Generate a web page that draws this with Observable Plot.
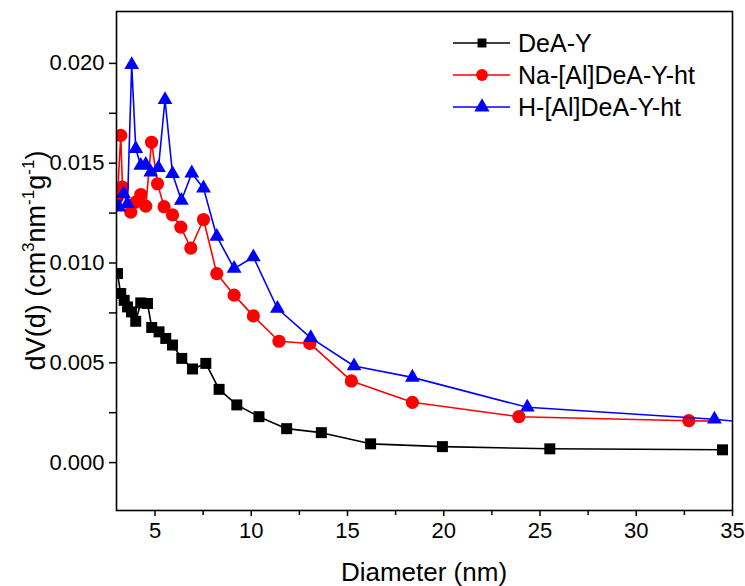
<!DOCTYPE html>
<html>
<head>
<meta charset="utf-8">
<script src="https://cdn.jsdelivr.net/npm/d3@7"></script>
<script src="https://cdn.jsdelivr.net/npm/@observablehq/plot@0.6"></script>
<style>
  html, body { margin: 0; padding: 0; background: #fff; }
  #chart { width: 745px; height: 586px; }
</style>
</head>
<body>
<div id="chart"></div>
<script>
// ---- Data ----
const seriesNames = ["DeA-Y", "Na-[Al]DeA-Y-ht", "H-[Al]DeA-Y-ht"];
const seriesColors = ["#000000", "#ff0000", "#0000ff"];
const seriesSymbols = ["square", "circle", "triangle"];

const diameterDeA = [3.05, 3.22, 3.40, 3.57, 3.78, 4.00, 4.26, 4.61, 4.83, 5.21, 5.56, 5.91, 6.39, 6.95, 7.64, 8.33, 9.25, 10.4, 11.84, 13.64, 16.2, 19.93, 25.51, 34.48];
const dvDeA       = [0.00947, 0.00847, 0.00813, 0.00780, 0.00755, 0.00708, 0.00800, 0.00797, 0.00677, 0.00655, 0.00622, 0.00589, 0.00522, 0.00469, 0.00497, 0.00367, 0.00289, 0.00230, 0.00170, 0.00150, 0.00094, 0.00080, 0.00069, 0.00064];

const diameterNa = [3.05, 3.22, 3.31, 3.74, 4.00, 4.26, 4.52, 4.82, 5.13, 5.47, 5.91, 6.34, 6.86, 7.52, 8.21, 9.11, 10.11, 11.44, 13.04, 15.2, 18.37, 23.9, 32.73, 34.06];
const dvNa       = [0.01330, 0.01639, 0.01380, 0.01255, 0.01305, 0.01343, 0.01285, 0.01605, 0.01397, 0.01282, 0.01241, 0.01180, 0.01075, 0.01218, 0.00947, 0.00839, 0.00735, 0.00608, 0.00597, 0.00409, 0.00302, 0.00230, 0.00210, 0.00208];
// the last Na point lies under the H triangle at 34.06 nm; its marker is hidden in the reference
const hiddenMarkerNa = [34.06];

const diameterH = [3.13, 3.36, 3.57, 3.79, 4.00, 4.26, 4.52, 4.78, 5.18, 5.52, 5.91, 6.37, 6.91, 7.52, 8.21, 9.11, 10.11, 11.36, 13.09, 15.34, 18.37, 24.34, 34.06, 36.0];
const dvH       = [0.01280, 0.01347, 0.01297, 0.01993, 0.01572, 0.01488, 0.01493, 0.01455, 0.01477, 0.01818, 0.01447, 0.01313, 0.01450, 0.01375, 0.01133, 0.00972, 0.01030, 0.00772, 0.00625, 0.00484, 0.00427, 0.00277, 0.00217, 0.00198];

const xTicks = [5, 10, 15, 20, 25, 30, 35];
const xMinorTicks = [7.5, 12.5, 17.5, 22.5, 27.5, 32.5];
const yTicks = [0.000, 0.005, 0.010, 0.015, 0.020];
const yMinorTicks = [0.0025, 0.0075, 0.0125, 0.0175];
const xLabel = "Diameter (nm)";

const toRows = (xs, ys, name) => xs.map((d, i) => ({diameter: d, dv: ys[i], series: name}));
const rowsDeA = toRows(diameterDeA, dvDeA, seriesNames[0]);
const rowsNa = toRows(diameterNa, dvNa, seriesNames[1]);
const rowsH = toRows(diameterH, dvH, seriesNames[2]);
const allRows = [rowsDeA, rowsNa, rowsH];

const W = 745, H = 586;
const mL = 116, mR = 13, mT = 11, mB = 76;
const font = "'Liberation Sans', Arial, sans-serif";

const marks = [];
marks.push(Plot.axisX({ticks: xTicks, tickSize: 6, tickPadding: 6, tickFormat: d => String(d), label: null, fontSize: 22, strokeWidth: 1.5}));
marks.push(Plot.axisX({ticks: xMinorTicks, tickSize: 5, tickFormat: () => "", label: null, strokeWidth: 1.5}));
marks.push(Plot.axisY({ticks: yTicks, tickSize: 7, tickPadding: 5, tickFormat: d3.format(".3f"), label: null, fontSize: 22, strokeWidth: 1.5}));
marks.push(Plot.axisY({ticks: yMinorTicks, tickSize: 7, tickFormat: () => "", label: null, strokeWidth: 1.5}));

allRows.forEach((rows, i) => {
  marks.push(Plot.line(rows, {x: "diameter", y: "dv", stroke: seriesColors[i], strokeWidth: 1.6, clip: true}));
  const r = i === 0 ? 6.2 : i === 1 ? 6.6 : 5.5;
  const shown = i === 1 ? rows.filter(d => !hiddenMarkerNa.includes(d.diameter)) : rows;
  marks.push(Plot.dot(shown, {x: "diameter", y: "dv", fill: seriesColors[i], stroke: "none", symbol: seriesSymbols[i], r, clip: true}));
});
marks.push(Plot.frame({stroke: "black", strokeWidth: 1.6}));

const chart = Plot.plot({
  width: W, height: H,
  marginLeft: mL, marginRight: mR, marginTop: mT, marginBottom: mB,
  x: {domain: [3, 35]},
  y: {domain: [-0.0024, 0.0226]},
  style: {fontFamily: font, fontSize: "22px", color: "#000", background: "#fff"},
  marks
});
document.getElementById("chart").appendChild(chart);

// ---- axis titles & legend (added onto the same SVG) ----
const svg = d3.select(chart);
svg.selectAll("text").attr("fill", "#000");

svg.append("text")
  .attr("x", mL + (W - mL - mR) / 2)
  .attr("y", 581)
  .attr("text-anchor", "middle")
  .attr("font-family", font)
  .attr("font-size", 26)
  .attr("fill", "#000")
  .text(xLabel);

const yl = svg.append("text")
  .attr("transform", `translate(45,${mT + (H - mT - mB) / 2}) rotate(-90)`)
  .attr("text-anchor", "middle")
  .attr("font-family", font)
  .attr("font-size", 27)
  .attr("fill", "#000");
yl.append("tspan").text("dV(d) (cm");
yl.append("tspan").attr("dy", -11).attr("font-size", 17).text("3");
yl.append("tspan").attr("dy", 11).text("nm");
yl.append("tspan").attr("dy", -11).attr("font-size", 17).text("-1");
yl.append("tspan").attr("dy", 11).text("g");
yl.append("tspan").attr("dy", -11).attr("font-size", 17).text("-1");
yl.append("tspan").attr("dy", 11).text(")");

const legendRowsY = [43, 75, 107];
const legendSym = [d3.symbolSquare, d3.symbolCircle, d3.symbolTriangle];
const legendSize = [80, 110, 100];
const lg = svg.append("g");
seriesNames.forEach((name, i) => {
  const y = legendRowsY[i];
  lg.append("line").attr("x1", 453).attr("x2", 510).attr("y1", y).attr("y2", y)
    .attr("stroke", seriesColors[i]).attr("stroke-width", 1.6);
  lg.append("path").attr("d", d3.symbol(legendSym[i], legendSize[i])())
    .attr("transform", `translate(482,${y})`).attr("fill", seriesColors[i]);
  lg.append("text").attr("x", 518).attr("y", y).attr("dy", "0.36em")
    .attr("text-anchor", "start")
    .attr("font-family", font).attr("font-size", 25).attr("fill", "#000").text(name);
});
</script>
</body>
</html>
